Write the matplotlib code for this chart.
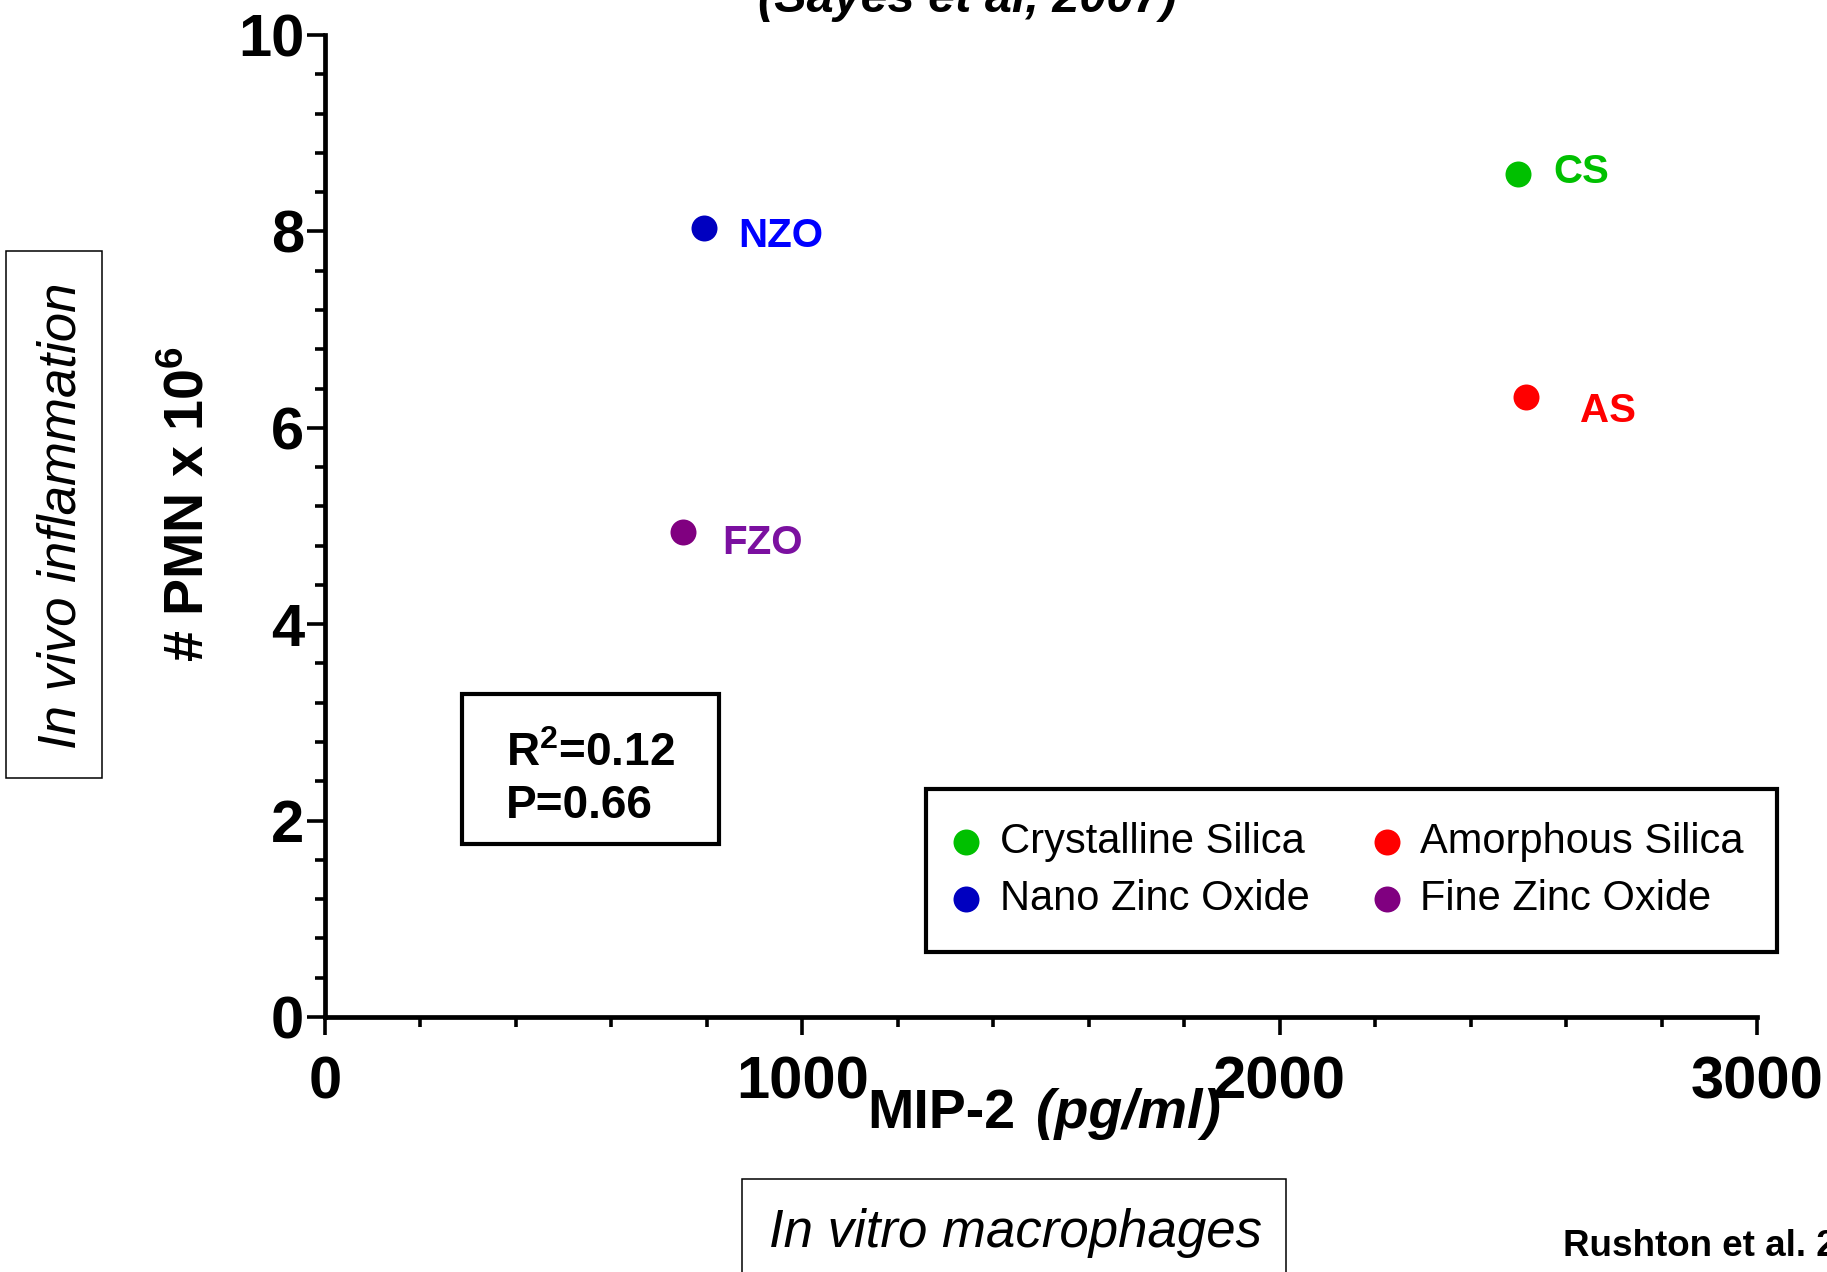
import matplotlib
matplotlib.use('Agg')
import matplotlib.pyplot as plt
from matplotlib.patches import Rectangle
from matplotlib.ticker import MultipleLocator

plt.rcParams['font.family'] = ['Liberation Sans', 'DejaVu Sans']
plt.rcParams['mathtext.fontset'] = 'custom'
plt.rcParams['mathtext.rm'] = 'Liberation Sans:bold'
plt.rcParams['mathtext.bf'] = 'Liberation Sans:bold'
plt.rcParams['mathtext.it'] = 'Liberation Sans:italic:bold'

# ---- data ----
codes = ['CS', 'AS', 'NZO', 'FZO']
names = ['Crystalline Silica', 'Amorphous Silica', 'Nano Zinc Oxide', 'Fine Zinc Oxide']
mip2 = [2499, 2516, 794, 750]          # pg/ml
pmn = [8.58, 6.31, 8.03, 4.94]         # PMN x 10^6
dot_colors = ['#00C000', '#FF0000', '#0000C0', '#800080']
label_colors = ['#00C000', '#FF0000', '#0000FF', '#7B10A0']
r_squared = '0.12'
p_value = '0.66'
x_ticks = [0, 1000, 2000, 3000]
y_ticks = [0, 2, 4, 6, 8, 10]

# label offsets (pixels: right, down)
label_offsets = [(36, 9), (54, 25), (34, 19), (39, 22)]

W, H = 1827, 1272
fig = plt.figure(figsize=(W / 100, H / 100), dpi=100)
PT = 0.72  # points per pixel

ax = fig.add_axes([325 / W, 1 - 1017 / H, (1757 - 325) / W, (1017 - 35) / H])

handles = {}
for c, n, x, y, dc, lc, off in zip(codes, names, mip2, pmn, dot_colors, label_colors, label_offsets):
    h = ax.scatter([x], [y], s=350, color=dc, linewidths=0, zorder=3, clip_on=False, label=n)
    handles[n] = h
    ax.annotate(c, xy=(x, y), xytext=(off[0] * PT, -off[1] * PT), textcoords='offset points',
                color=lc, fontsize=29, fontweight='bold', ha='left', va='baseline')

ax.set_xlim(x_ticks[0], x_ticks[-1])
ax.set_ylim(y_ticks[0], y_ticks[-1])
ax.set_xticks(x_ticks)
ax.set_yticks(y_ticks)
ax.xaxis.set_minor_locator(MultipleLocator(200))
ax.yaxis.set_minor_locator(MultipleLocator(0.4))
for s in ['top', 'right']:
    ax.spines[s].set_visible(False)
for s in ['left', 'bottom']:
    ax.spines[s].set_linewidth(3.4)
ax.tick_params(which='major', length=18 * PT, width=2.6, direction='out')
ax.tick_params(which='minor', length=10 * PT, width=2.6, direction='out')
ax.tick_params(axis='x', which='major', pad=14.5)
ax.tick_params(axis='y', which='major', pad=2)
for lab in ax.get_xticklabels() + ax.get_yticklabels():
    lab.set_fontsize(43)
    lab.set_fontweight('bold')

# legend
order = ['Crystalline Silica', 'Nano Zinc Oxide', 'Amorphous Silica', 'Fine Zinc Oxide']
leg = ax.legend([handles[n] for n in order], order, ncol=2, loc='upper left',
                bbox_to_anchor=(926 / W, 1 - 789 / H), bbox_transform=fig.transFigure,
                borderaxespad=0, fontsize=30, frameon=True, fancybox=False,
                borderpad=0.8, handlelength=0.32, handletextpad=0.65,
                columnspacing=1.69, labelspacing=0.39, scatterpoints=1)
leg.get_frame().set_edgecolor('black')
leg.get_frame().set_linewidth(3)
leg.get_frame().set_alpha(1)

# R^2 box
fig.add_artist(Rectangle((462 / W, 1 - 844 / H), (719 - 462) / W, (844 - 694) / H,
                         transform=fig.transFigure, fill=False, lw=3, edgecolor='black'))
fig.text(506 / W, 1 - 766 / H, r'$\mathrm{R}^{2}$=' + r_squared, fontsize=33, fontweight='bold', va='baseline')
fig.text(506 / W, 1 - 818 / H, 'P=' + p_value, fontsize=33, fontweight='bold', va='baseline')

# axis labels
t1 = fig.text(0, 1 - 1128 / H, 'MIP-2', fontsize=40, fontweight='bold', va='baseline', ha='left')
t2 = fig.text(0, 1 - 1128 / H, '(pg/ml)', fontsize=40, fontweight='bold', fontstyle='italic',
              va='baseline', ha='left')
fig.canvas.draw()
r = fig.canvas.get_renderer()
w1 = t1.get_window_extent(r).width
w2 = t2.get_window_extent(r).width
gap = 20
x0 = 1044 - (w1 + gap + w2) / 2
t1.set_x(x0 / W)
t2.set_x((x0 + w1 + gap) / W)

fig.text(204 / W, 1 - 504 / H, r'# PMN x $10^{6}$', fontsize=40, fontweight='bold',
         rotation=90, rotation_mode='anchor', ha='center', va='baseline')

# In vivo box
fig.add_artist(Rectangle((6 / W, 1 - 778 / H), (102 - 6) / W, (778 - 251) / H,
                         transform=fig.transFigure, fill=False, lw=1.1, edgecolor='black'))
fig.text(76 / W, 1 - 516 / H, 'In vivo inflammation', fontsize=38, fontstyle='italic',
         rotation=90, rotation_mode='anchor', ha='center', va='baseline')

# In vitro box
fig.add_artist(Rectangle((742 / W, -0.05), (1286 - 742) / W, 0.05 + (1 - 1179 / H),
                         transform=fig.transFigure, fill=False, lw=1.1, edgecolor='black'))
fig.text(1016 / W, 1 - 1247 / H, 'In vitro macrophages', fontsize=38, fontstyle='italic',
         ha='center', va='baseline')

# title (partially cut off at top)
fig.text(967 / W, 1 - 12 / H, '(Sayes et al, 2007)', fontsize=35, fontweight='bold',
         fontstyle='italic', ha='center', va='baseline')

# citation
fig.text(1563 / W, 1 - 1256 / H, 'Rushton et al. 2010', fontsize=26.5, fontweight='bold',
         ha='left', va='baseline')

fig.savefig('out.png', dpi=100)
